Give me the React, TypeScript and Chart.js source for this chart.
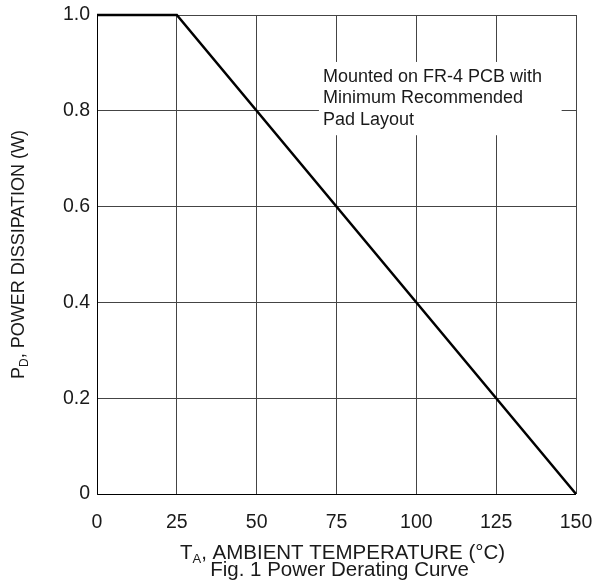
import React, { useEffect, useRef } from "react";
import { Chart, registerables } from "chart.js";

Chart.register(...registerables);

const temperatureC = [0, 25, 150];
const powerW = [1.0, 1.0, 0];
const xTickValues = [0, 25, 50, 75, 100, 125, 150];
const yTickLabels = ["0", "0.2", "0.4", "0.6", "0.8", "1.0"];
const xTitleParts: [string, boolean][] = [["T", false], ["A", true], [", AMBIENT TEMPERATURE (°C)", false]];
const yTitleParts: [string, boolean][] = [["P", false], ["D", true], [", POWER DISSIPATION (W)", false]];
const captionText = "Fig. 1 Power Derating Curve";
const noteLines = ["Mounted on FR-4 PCB with", "Minimum Recommended", "Pad Layout"];

const FONT = "'Liberation Sans', Arial, sans-serif";
const TEXT_COLOR = "#1a1a1a";

function drawParts(ctx: CanvasRenderingContext2D, parts: [string, boolean][], cx: number, cy: number, size: number, subSize: number) {
  const widths = parts.map(([t, sub]) => {
    ctx.font = `${sub ? subSize : size}px ${FONT}`;
    return ctx.measureText(t).width;
  });
  const total = widths.reduce((a, b) => a + b, 0);
  let x = cx - total / 2;
  ctx.textAlign = "left";
  ctx.textBaseline = "alphabetic";
  parts.forEach(([t, sub], i) => {
    ctx.font = `${sub ? subSize : size}px ${FONT}`;
    ctx.fillText(t, x, cy + (sub ? 4 : 0));
    x += widths[i];
  });
}

const overlayPlugin = {
  id: "overlay",
  beforeDatasetsDraw(chart: any) {
    const ctx = chart.ctx as CanvasRenderingContext2D;
    const xs = chart.scales.x;
    const ys = chart.scales.y;
    const boxX = xs.getPixelForValue(69.5);
    const boxY = ys.getPixelForValue(0.902);
    const boxR = xs.getPixelForValue(145.5);
    const boxB = ys.getPixelForValue(0.749);
    ctx.save();
    ctx.fillStyle = "#ffffff";
    ctx.fillRect(boxX, boxY, boxR - boxX, boxB - boxY);
    ctx.fillStyle = TEXT_COLOR;
    ctx.font = `18px ${FONT}`;
    ctx.textAlign = "left";
    ctx.textBaseline = "middle";
    noteLines.forEach((line, i) => {
      ctx.fillText(line, boxX + 4, boxY + 15 + i * 21.5);
    });
    const { left, right, top, bottom } = chart.chartArea;
    ctx.strokeStyle = "#000";
    ctx.lineWidth = 1;
    ctx.beginPath();
    ctx.moveTo(Math.round(left) + 0.5, Math.round(top));
    ctx.lineTo(Math.round(left) + 0.5, Math.round(bottom) + 0.5);
    ctx.lineTo(Math.round(right), Math.round(bottom) + 0.5);
    ctx.stroke();
    ctx.restore();
  },
  afterDraw(chart: any) {
    const ctx = chart.ctx as CanvasRenderingContext2D;
    const { left, right, top, bottom } = chart.chartArea;
    const cx = (left + right) / 2 + 6;
    ctx.save();
    ctx.fillStyle = TEXT_COLOR;
    drawParts(ctx, xTitleParts, cx, 559, 20.5, 13);
    ctx.font = `20.5px ${FONT}`;
    ctx.textAlign = "center";
    ctx.textBaseline = "alphabetic";
    ctx.fillText(captionText, cx - 3, 576);
    ctx.translate(24, (top + bottom) / 2);
    ctx.rotate(-Math.PI / 2);
    drawParts(ctx, yTitleParts, 0, 0, 18, 12);
    ctx.restore();
  },
};

export default function App() {
  const ref = useRef<HTMLCanvasElement>(null);
  useEffect(() => {
    if (!ref.current) return;
    const chart = new Chart(ref.current, {
      type: "line",
      data: {
        datasets: [
          {
            data: temperatureC.map((t, i) => ({ x: t, y: powerW[i] })),
            borderColor: "#000",
            borderWidth: 2.5,
            pointRadius: 0,
            fill: false,
            tension: 0,
            clip: false as any,
          },
        ],
      },
      options: {
        responsive: false,
        animation: false,
        layout: { padding: { left: 0, top: 15, right: 20, bottom: 0 } },
        plugins: { legend: { display: false }, tooltip: { enabled: false }, title: { display: false } },
        scales: {
          x: {
            type: "linear",
            min: 0,
            max: 150,
            afterBuildTicks: (scale: any) => {
              scale.ticks = xTickValues.map((v) => ({ value: v }));
            },
            afterFit: (scale: any) => {
              scale.height = 94;
              scale.paddingLeft = 0;
              scale.paddingRight = 0;
            },
            grid: { color: "#444", lineWidth: 1, drawTicks: false },
            border: { display: false },
            ticks: {
              padding: 17,
              color: TEXT_COLOR,
              font: { family: FONT, size: 19.5 },
              maxRotation: 0,
              callback: (v: any) => String(v),
            },
          },
          y: {
            type: "linear",
            min: 0,
            max: 1,
            afterBuildTicks: (scale: any) => {
              scale.ticks = yTickLabels.map((l) => ({ value: parseFloat(l) }));
            },
            afterFit: (scale: any) => {
              scale.width = 97;
              scale.paddingTop = 0;
              scale.paddingBottom = 0;
            },
            grid: { color: "#444", lineWidth: 1, drawTicks: false },
            border: { display: false },
            ticks: {
              padding: 7,
              color: TEXT_COLOR,
              font: { family: FONT, size: 19.5 },
              callback: (v: any, i: number) => yTickLabels[i],
            },
          },
        },
      },
      plugins: [overlayPlugin],
    });
    return () => chart.destroy();
  }, []);
  return (
    <div style={{ position: "absolute", left: 0, top: 0, width: 596, height: 588, background: "#fff" }}>
      <canvas ref={ref} width={596} height={588} style={{ display: "block" }} />
    </div>
  );
}
